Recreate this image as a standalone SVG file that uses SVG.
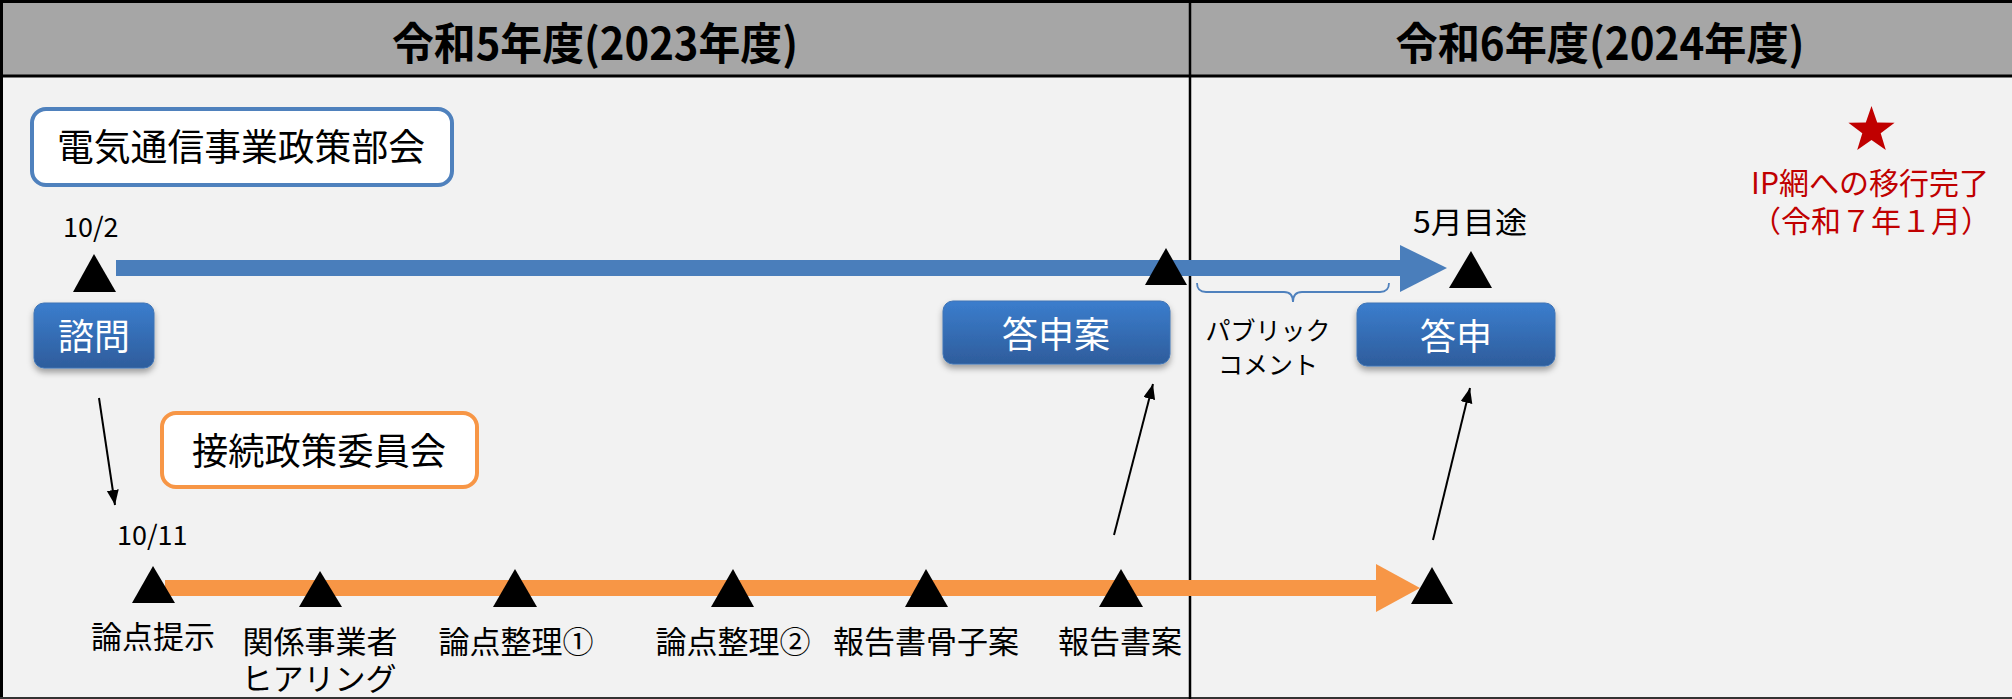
<svg xmlns="http://www.w3.org/2000/svg" width="2012" height="699" viewBox="0 0 2012 699">
<style>
.t{font-family:"Noto Sans CJK JP","Noto Sans",sans-serif;}
.hd{font-family:"Noto Sans CJK JP","Noto Sans",sans-serif;font-weight:700;font-size:44px;fill:#000;text-anchor:middle;}
.lbl{font-family:"Noto Sans CJK JP","Noto Sans",sans-serif;font-size:31px;fill:#000;text-anchor:middle;}
.btn{fill:url(#bg);stroke:#3F74B5;stroke-width:1;filter:url(#sh);}
.btxt{font-family:"Noto Sans CJK JP","Noto Sans",sans-serif;font-size:36px;fill:#fff;text-anchor:middle;}
.tri{fill:#000;}
.thin{stroke:#000;stroke-width:2;fill:none;marker-end:url(#ah);}
.red{font-family:"Noto Sans CJK JP","Noto Sans",sans-serif;font-size:30px;fill:#C00000;text-anchor:middle;}
</style>
<defs>
<linearGradient id="bg" x1="0" y1="0" x2="0" y2="1">
<stop offset="0" stop-color="#3B7DCD"/>
<stop offset="1" stop-color="#2E5D9C"/>
</linearGradient>
<filter id="sh" x="-20%" y="-20%" width="140%" height="160%">
<feDropShadow dx="0" dy="4" stdDeviation="3" flood-color="#000" flood-opacity="0.35"/>
</filter>
<marker id="ah" markerUnits="userSpaceOnUse" markerWidth="16" markerHeight="14" refX="15" refY="6" orient="auto">
<path d="M0,0 L15,6 L0,12 Z" fill="#000"/>
</marker>
</defs>

<g id="background">
<rect x="0" y="0" width="2012" height="699" fill="#F2F2F2"/>
<rect x="0" y="0" width="2012" height="76" fill="#A6A6A6"/>
<line x1="0" y1="1.5" x2="2012" y2="1.5" stroke="#000" stroke-width="3"/>
<line x1="0" y1="76" x2="2012" y2="76" stroke="#000" stroke-width="3"/>
<line x1="1.5" y1="0" x2="1.5" y2="699" stroke="#000" stroke-width="3"/>
<line x1="0" y1="698" x2="2012" y2="698" stroke="#333" stroke-width="2"/>
<line x1="1190" y1="0" x2="1190" y2="699" stroke="#000" stroke-width="2.5"/>
</g>

<g id="header-2023">
<text class="hd" x="595" y="60" textLength="406" lengthAdjust="spacingAndGlyphs">令和5年度(2023年度)</text>
</g>
<g id="header-2024">
<text class="hd" x="1600" y="60" textLength="409" lengthAdjust="spacingAndGlyphs">令和6年度(2024年度)</text>
</g>

<g id="connectors">
<rect x="116" y="260" width="1285" height="16" fill="#4A7EBB"/>
<polygon points="1400,245 1447,268 1400,292" fill="#4A7EBB"/>
<rect x="165" y="580" width="1212" height="16" fill="#F79646"/>
<polygon points="1376,564 1420,588 1376,612" fill="#F79646"/>
<path d="M1197,283 Q1197,292 1206,292 L1284,292 Q1293,292 1293,302 Q1293,292 1302,292 L1380,292 Q1389,292 1389,283" fill="none" stroke="#4F81BD" stroke-width="1.8"/>
<line class="thin" x1="99" y1="398" x2="115" y2="505"/>
<line class="thin" x1="1114" y1="535" x2="1153" y2="384"/>
<line class="thin" x1="1433" y1="540" x2="1470" y2="388"/>
</g>

<g id="committee-telecom">
<rect x="32" y="109" width="420" height="76" rx="14" fill="#fff" stroke="#4F81BD" stroke-width="4"/>
<text class="t" x="241" y="161" font-size="37" text-anchor="middle" textLength="368" lengthAdjust="spacingAndGlyphs">電気通信事業政策部会</text>
</g>

<g id="committee-connection">
<rect x="162" y="413" width="315" height="74" rx="14" fill="#fff" stroke="#F79646" stroke-width="4"/>
<text class="t" x="319" y="465" font-size="37" text-anchor="middle" textLength="254" lengthAdjust="spacingAndGlyphs">接続政策委員会</text>
</g>

<g id="milestone-10-2">
<text class="t" x="63" y="237" font-size="27">10/2</text>
<polygon class="tri" points="94,254 73,292 116,292"/>
</g>

<g id="node-shimon">
<rect class="btn" x="34" y="303" width="120" height="65" rx="10"/>
<text class="btxt" x="94" y="350">諮問</text>
</g>

<g id="milestone-toshin-an">
<polygon class="tri" points="1166,248 1145,285 1187,285"/>
</g>
<g id="node-toshin-an">
<rect class="btn" x="943" y="301" width="227" height="63" rx="10"/>
<text class="btxt" x="1056" y="348">答申案</text>
</g>

<g id="public-comment">
<text class="t" font-size="25" text-anchor="middle"><tspan x="1268" y="340">パブリック</tspan><tspan x="1268" y="374">コメント</tspan></text>
</g>

<g id="milestone-may">
<text class="t" x="1470" y="233" font-size="30" text-anchor="middle" textLength="114" lengthAdjust="spacingAndGlyphs">5月目途</text>
<polygon class="tri" points="1471,251 1449,288 1492,288"/>
</g>
<g id="node-toshin">
<rect class="btn" x="1357" y="303" width="198" height="63" rx="10"/>
<text class="btxt" x="1456" y="350">答申</text>
</g>

<g id="ip-migration">
<polygon fill="#C00000" points="1871.5,106 1877.2,122.4 1894.6,122.8 1880.7,133.3 1885.8,150 1871.5,140.1 1857.2,150 1862.3,133.3 1848.4,122.8 1865.8,122.4"/>
<text class="red"><tspan x="1870" y="194">IP網への移行完了</tspan><tspan x="1871" y="232">（令和７年１月）</tspan></text>
</g>

<g id="milestone-10-11">
<text class="t" x="117" y="545" font-size="27">10/11</text>
<polygon class="tri" points="153,566 132,603 175,603"/>
<text class="lbl" x="153" y="648">論点提示</text>
</g>
<g id="milestone-hearing">
<polygon class="tri" points="320,571 299,607 342,607"/>
<text class="lbl"><tspan x="320" y="653">関係事業者</tspan><tspan x="319" y="690">ヒアリング</tspan></text>
</g>
<g id="milestone-issues1">
<polygon class="tri" points="515,569 493,607 537,607"/>
<text class="lbl" x="516" y="653">論点整理①</text>
</g>
<g id="milestone-issues2">
<polygon class="tri" points="733,569 711,607 754,607"/>
<text class="lbl" x="733" y="653">論点整理②</text>
</g>
<g id="milestone-outline">
<polygon class="tri" points="926,569 905,607 948,607"/>
<text class="lbl" x="926" y="653">報告書骨子案</text>
</g>
<g id="milestone-report">
<polygon class="tri" points="1121,569 1099,607 1143,607"/>
<text class="lbl" x="1120" y="653">報告書案</text>
</g>
<g id="milestone-end">
<polygon class="tri" points="1432,567 1411,604 1453,604"/>
</g>
</svg>
